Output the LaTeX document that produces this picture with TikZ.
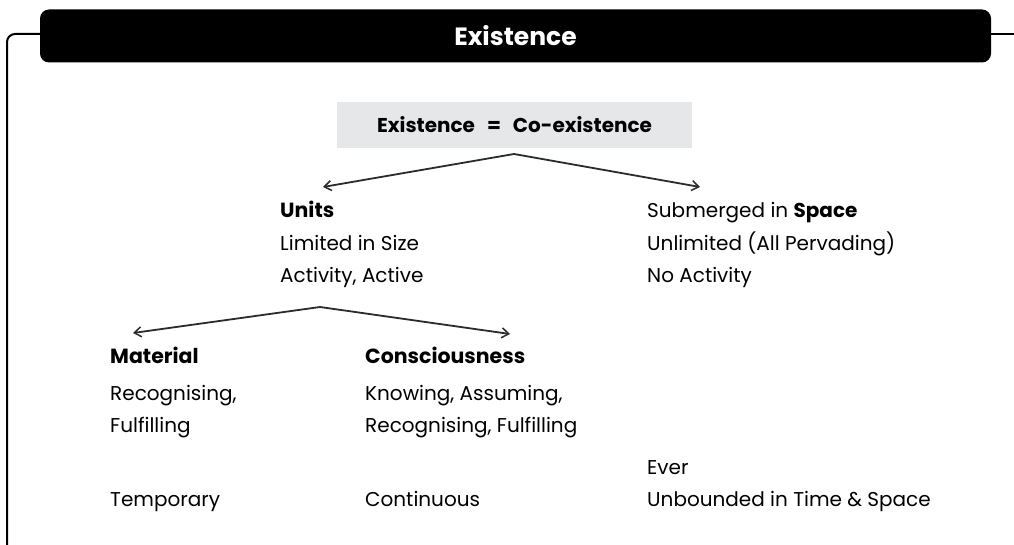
\documentclass[tikz,border=0pt]{standalone}
\usepackage{fontspec}
\setmainfont{Poppins}
\usetikzlibrary{arrows.meta}
\definecolor{boxgray}{HTML}{E6E7E9}
\definecolor{arrowgray}{HTML}{2B2B2B}
\begin{document}
\begin{tikzpicture}[x=1pt,y=-1pt,
  txt/.style={anchor=base west,inner sep=0pt,font=\fontsize{20}{24}\selectfont},
  head/.style={txt,font=\fontsize{20.5}{24}\selectfont\bfseries},
  link/.style={draw=arrowgray,line width=1.8pt,-{Straight Barb[length=7pt,width=10pt,line width=1.5pt]}}]
\useasboundingbox (0,0) rectangle (1014,545);
% outer frame
\draw[line width=2pt,rounded corners=8pt] (42,34) -- (7,34) -- (7,560);
\draw[line width=2pt] (988,34) -- (1014,34);
% title bar
\node[fill=black,rounded corners=9pt,minimum width=951pt,minimum height=53pt,inner sep=0pt,
  text=white,font=\fontsize{25}{28}\selectfont\bfseries] (title) at (515.5,36) {Existence};
% top box
\node[fill=boxgray,minimum width=355pt,minimum height=46pt,inner sep=0pt,
  font=\fontsize{20}{24}\selectfont\bfseries] (eq) at (514.5,125) {Existence\hspace{12pt}=\hspace{12pt}Co-existence};
\coordinate (apex1) at (514,154);
\coordinate (unitsTip) at (323,187);
\coordinate (spaceTip) at (700,187);
\draw[link] (apex1) -- (unitsTip);
\draw[link] (apex1) -- (spaceTip);
% units column
\node[head] (units) at (280,218) {Units};
\node[txt] (units1) at (280,251) {Limited in Size};
\node[txt] (units2) at (280,283) {Activity, Active};
% space column
\node[txt] (space) at (647,218) {Submerged in \textbf{Space}};
\node[txt] (space1) at (647,251) {Unlimited (All Pervading)};
\node[txt] (space2) at (647,283) {No Activity};
% second split
\coordinate (apex2) at (320,307);
\coordinate (matTip) at (133,333);
\coordinate (consTip) at (510,334);
\draw[link] (apex2) -- (matTip);
\draw[link] (apex2) -- (consTip);
% material column
\node[head] (mat) at (110,363) {Material};
\node[txt] (mat1) at (110,400) {Recognising,};
\node[txt] (mat2) at (110,432) {Fulfilling};
\node[txt] (mat3) at (110,506) {Temporary};
% consciousness column
\node[head] (cons) at (365,363) {Consciousness};
\node[txt] (cons1) at (365,400) {Knowing, Assuming,};
\node[txt] (cons2) at (365,432) {Recognising, Fulfilling};
\node[txt] (cons3) at (365,506) {Continuous};
% space, time column
\node[txt] (ever) at (647,474) {Ever};
\node[txt] (ever1) at (647,506) {Unbounded in Time \& Space};
\end{tikzpicture}
\end{document}
